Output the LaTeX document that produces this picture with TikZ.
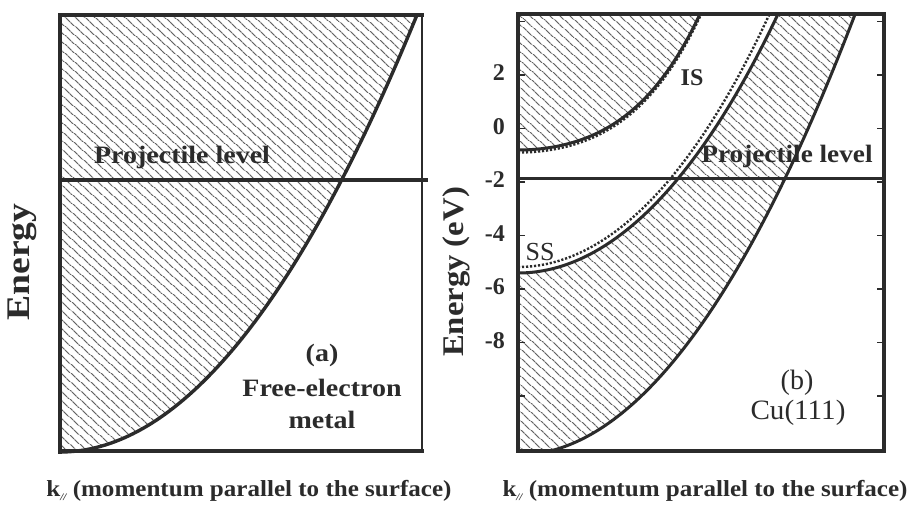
\documentclass[tikz,border=0pt]{standalone}
\usepackage{fontspec}
\usepackage{graphicx}
\setmainfont{Liberation Serif}
\usetikzlibrary{patterns.meta}
\definecolor{ink}{HTML}{2B2B2B}
\tikzset{
  frame/.style={draw=ink, line width=3.6pt, line cap=rect},
  band/.style={draw=ink, line width=3pt},
  dotband/.style={draw=ink, line width=2.4pt, dash pattern=on 2.2pt off 1.8pt},
  hatch/.style={pattern={Lines[angle=-42,distance=6.5pt,line width=0.9pt]}, pattern color=ink},
  tickmark/.style={draw=ink, line width=1.6pt},
  bt/.style={text=ink, inner sep=0pt, font=\bfseries\fontsize{#1}{#1}\selectfont},
  rt/.style={text=ink, inner sep=0pt, font=\fontsize{#1}{#1}\selectfont},
}
\begin{document}
\begin{tikzpicture}[x=1pt,y=-1pt]
\useasboundingbox[fill=white] (0,0) rectangle (907,504);

% ---------- panel (a) ----------
\begin{scope}
  \clip (60,15) rectangle (422,452);
  \fill[hatch] (60,10) -- (60,452)
     -- plot[domain=60:420,samples=80,variable=\x] (\x,{452-(0.05857*(\x-60))^2})
     -- (420,10) -- cycle;
\end{scope}
\begin{scope}
  \clip (40,15) rectangle (430,470);
  \draw[band, line width=3.4pt] plot[domain=60:420,samples=80,variable=\x] (\x,{452-(0.05857*(\x-60))^2});
\end{scope}
\draw[frame, line width=2.8pt] (60,15) rectangle (422,451);
\draw[frame] (60,15) -- (422,15);
\draw[frame, line width=4.4pt] (60,15) -- (60,452);
\draw[frame, line width=4pt] (60,451) -- (422,451);
\draw[draw=ink, line width=3.2pt] (60,180) -- (428,180);

\node[bt=25] (projA) at (182,157) {\scalebox{1.12}[1]{Projectile level}};
\node[bt=25] (labA) at (322,355) {\scalebox{1.12}[1]{(a)}};
\node[bt=25] (freeA) at (322,388) {\scalebox{1.12}[1]{Free-electron}};
\node[bt=25] (metalA) at (322,420) {\scalebox{1.12}[1]{metal}};
\node[bt=33, rotate=90] (enA) at (22,262) {\scalebox{1.14}[1]{Energy}};
\node[bt=23] (kA) at (249,491) {\scalebox{1.09}[1]{k\raisebox{-0.35ex}{\fontsize{10}{10}\selectfont\itshape //} (momentum parallel to the surface)}};

% ---------- panel (b) ----------
\begin{scope}
  \clip (518,14) rectangle (885,452);
  \fill[hatch] (518,8) -- (518,150)
     -- plot[domain=518:706,samples=70,variable=\x] (\x,{150-(0.04865*(\x-518))^2-(0.015137*(\x-518))^4})
     -- (706,8) -- cycle;
  \fill[hatch] (518,273) -- (518,456)
     -- plot[domain=518:858,samples=80,variable=\x] (\x,{455-(0.06229*(\x-518))^2})
     -- (858,8) -- (782,8)
     -- plot[domain=782:518,samples=80,variable=\x] (\x,{273-(0.06*(\x-518))^2-(0.007641*(\x-518))^4})
     -- cycle;
  \draw[band] plot[domain=518:706,samples=70,variable=\x] (\x,{150-(0.04865*(\x-518))^2-(0.015137*(\x-518))^4});
  \draw[dotband] plot[domain=518:708,samples=70,variable=\x] (\x,{152.5-(0.04865*(\x-518))^2-(0.015137*(\x-518))^4});
  \draw[band] plot[domain=518:782,samples=80,variable=\x] (\x,{273-(0.06*(\x-518))^2-(0.007641*(\x-518))^4});
  \draw[dotband] plot[domain=518:774,samples=80,variable=\x] (\x,{267-(0.06083*(\x-518))^2-(0.008284*(\x-518))^4});
  \draw[band] plot[domain=518:860,samples=80,variable=\x] (\x,{455-(0.06229*(\x-518))^2});
\end{scope}
\draw[frame] (518,14) rectangle (884,451);
\draw[draw=ink, line width=3pt] (518,178) -- (884,178);
\foreach \e in {4,2,0,-2,-4,-6,-8,-10} {
  \draw[tickmark] (518,{128.5-26.75*\e}) -- (525,{128.5-26.75*\e});
  \draw[tickmark] (877,{128.5-26.75*\e}) -- (884,{128.5-26.75*\e});
}
\foreach \e in {2,0,-2,-4,-6,-8} {
  \node[bt=24, anchor=east] (t\e) at (505,{126.5-26.75*\e}) {\e};
}
\node[bt=25] (projB) at (787,156) {\scalebox{1.09}[1]{Projectile level}};
\node[bt=24] (IS) at (692,78) {IS};
\node[rt=26] (SS) at (540,252) {SS};
\node[rt=28] (labB) at (797,383) {(b)};
\node[rt=28] (cuB) at (798,413) {\scalebox{1.04}[1]{Cu(111)}};
\node[bt=30, rotate=90] (enB) at (456,272) {\scalebox{1.09}[1]{Energy (eV)}};
\node[bt=23] (kB) at (705,491) {\scalebox{1.09}[1]{k\raisebox{-0.35ex}{\fontsize{10}{10}\selectfont\itshape //} (momentum parallel to the surface)}};
\end{tikzpicture}
\end{document}
